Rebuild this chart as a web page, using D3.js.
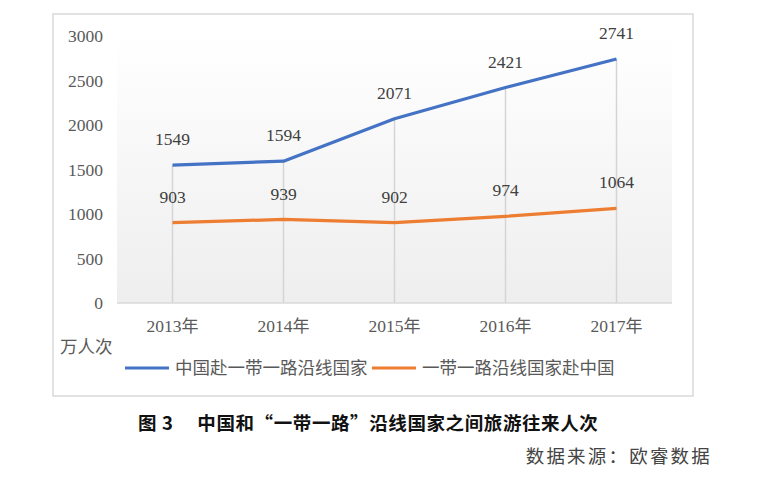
<!DOCTYPE html>
<html><head><meta charset="utf-8">
<script src="https://cdn.jsdelivr.net/npm/d3@7/dist/d3.min.js"></script>
<style>body{margin:0;background:#fff;}svg{display:block;}</style>
</head><body>
<svg id="c" width="764" height="477"></svg>
<script>
const years = ["2013年","2014年","2015年","2016年","2017年"];
const chinaToBR = [1549,1594,2071,2421,2741];
const brToChina = [903,939,902,974,1064];
const yTicks = [0,500,1000,1500,2000,2500,3000];
const seriesNames = ["中国赴一带一路沿线国家","一带一路沿线国家赴中国"];
const colors = ["#4472C4","#ED7D31"];

const svg = d3.select("#c");
const serif = "'Liberation Serif','DejaVu Serif',serif";
const cjk = "'Noto Sans CJK SC','Noto Sans',sans-serif";

// frame
svg.append("rect").attr("x",53).attr("y",14).attr("width",640).attr("height",382)
  .attr("fill","#fff").attr("stroke","#d9d9d9").attr("stroke-width",1.5);

const x = d3.scaleBand().domain(years).range([117,672]);
const y = d3.scaleLinear().domain([0,3000]).range([303,36]);

const defs = svg.append("defs");
const g = defs.append("linearGradient").attr("id","bg").attr("x1",0).attr("y1",0).attr("x2",0).attr("y2",1);
g.append("stop").attr("offset","0%").attr("stop-color","#ffffff");
g.append("stop").attr("offset","100%").attr("stop-color","#eeeeee");
svg.append("rect").attr("x",117).attr("y",y(3000)).attr("width",555).attr("height",y(0)-y(3000))
  .attr("fill","url(#bg)");

// drop lines
const cx = d => x(d)+x.bandwidth()/2;
svg.append("g").selectAll("line").data(years).join("line")
  .attr("x1",cx).attr("x2",cx)
  .attr("y1",(d,i)=>y(Math.max(chinaToBR[i],brToChina[i]))).attr("y2",y(0))
  .attr("stroke","#d4d4d4").attr("stroke-width",1.5);

// x axis line
svg.append("line").attr("x1",117).attr("x2",672).attr("y1",y(0)).attr("y2",y(0))
  .attr("stroke","#d9d9d9").attr("stroke-width",1.5);

// y tick labels
svg.append("g").selectAll("text").data(yTicks).join("text")
  .attr("x",103).attr("y",d=>y(d)).attr("dy","0.35em").attr("text-anchor","end")
  .attr("font-family",serif).attr("font-size",17.5).attr("fill","#595959").text(d=>d);

// x labels
svg.append("g").selectAll("text").data(years).join("text")
  .attr("x",cx).attr("y",326).attr("dy","0.35em").attr("text-anchor","middle")
  .attr("font-family",serif).attr("font-size",17.5).attr("fill","#595959")
  .each(function(d){
    const t=d3.select(this);
    t.append("tspan").text(d.slice(0,4));
    t.append("tspan").attr("font-family",cjk).attr("font-size",17).text(d.slice(4));
  });

// lines
const line = d3.line().x((d,i)=>cx(years[i])).y(d=>y(d));
[chinaToBR,brToChina].forEach((s,k)=>{
  svg.append("path").datum(s).attr("d",line).attr("fill","none")
    .attr("stroke",colors[k]).attr("stroke-width",3.2).attr("stroke-linejoin","round");
  svg.append("g").selectAll("text").data(s).join("text")
    .attr("x",(d,i)=>cx(years[i])).attr("y",d=>y(d)-26).attr("dy","0.35em")
    .attr("text-anchor","middle").attr("font-family",serif).attr("font-size",17.5)
    .attr("fill","#404040").text(d=>d);
});

// unit label
svg.append("text").attr("x",60).attr("y",347).attr("dy","0.35em")
  .attr("font-family",cjk).attr("font-size",17.5).attr("fill","#595959").text("万人次");

// legend
const legX = [125,372];
seriesNames.forEach((n,k)=>{
  svg.append("line").attr("x1",legX[k]).attr("x2",legX[k]+44).attr("y1",368).attr("y2",368)
    .attr("stroke",colors[k]).attr("stroke-width",3.2);
  svg.append("text").attr("x",legX[k]+50).attr("y",368).attr("dy","0.35em")
    .attr("font-family",cjk).attr("font-size",17.5).attr("fill","#595959").text(n);
});

// caption
svg.append("text").attr("x",138).attr("y",424).attr("dy","0.35em")
  .attr("font-family",cjk).attr("font-weight","bold").attr("font-size",18.5).attr("fill","#111")
  .attr("letter-spacing",0.6)
  .text("图 3　 中国和“一带一路”沿线国家之间旅游往来人次");

svg.append("text").attr("x",712).attr("y",457).attr("dy","0.35em").attr("text-anchor","end")
  .attr("font-family",cjk).attr("font-size",18.5).attr("fill","#444").attr("letter-spacing",2.2)
  .text("数据来源：欧睿数据");
</script>
</body></html>
